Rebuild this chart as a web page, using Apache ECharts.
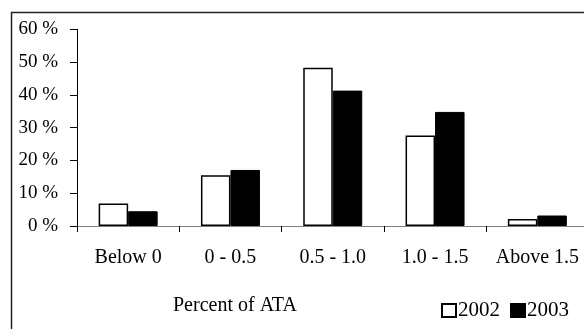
<!DOCTYPE html>
<html>
<head>
<meta charset="utf-8">
<script src="https://cdn.jsdelivr.net/npm/echarts@6/dist/echarts.min.js"></script>
<style>
  html, body { margin: 0; padding: 0; overflow: hidden; background: #fff; }
  #chart { width: 600px; height: 340px; }
</style>
</head>
<body>
<div id="chart"></div>
<script>
// Distribution of banks by ratio, share of each band per year
const categories = ['Below 0', '0 - 0.5', '0.5 - 1.0', '1.0 - 1.5', 'Above 1.5'];
const years = ['2002', '2003'];
const values2002 = [6.9, 15.5, 48.3, 27.6, 2.1];
const values2003 = [4.5, 17.1, 41.3, 34.8, 3.2];
const xTitle = 'Percent of ATA';

const serif = '"Liberation Serif", "Times New Roman", serif';

const chart = echarts.init(document.getElementById('chart'), null, { renderer: 'canvas' });

chart.setOption({
  animation: false,
  backgroundColor: '#fff',
  grid: { left: 77, top: 29.3, width: 511.5, height: 196.7 },
  xAxis: {
    type: 'category',
    data: categories,
    axisLine: { show: true, lineStyle: { color: '#808080', width: 1.2 } },
    axisTick: { show: true, length: 6, lineStyle: { color: '#000', width: 1 } },
    axisLabel: {
      interval: 0,
      hideOverlap: false,
      margin: 22,
      color: '#000',
      fontFamily: serif,
      fontSize: 20
    }
  },
  yAxis: {
    type: 'value',
    min: 0,
    max: 60,
    interval: 10,
    splitLine: { show: false },
    axisLine: { show: true, lineStyle: { color: '#000', width: 1 } },
    axisTick: { show: true, length: 7, lineStyle: { color: '#000', width: 1 } },
    axisLabel: {
      margin: 19,
      color: '#000',
      fontFamily: serif,
      fontSize: 19,
      formatter: '{value} %'
    }
  },
  legend: {
    data: years,
    left: 441,
    top: 300,
    icon: 'rect',
    itemWidth: 14,
    itemHeight: 13,
    itemGap: 10,
    padding: 0,
    textStyle: { color: '#000', fontFamily: serif, fontSize: 21, padding: [0, 0, 0, -3] }
  },
  graphic: [
    {
      type: 'rect',
      silent: true,
      shape: { x: 11.5, y: 12.5, width: 700, height: 400 },
      style: { fill: 'none', stroke: '#222', lineWidth: 1.5 }
    },
    {
      type: 'text',
      left: 173,
      top: 296,
      style: { text: xTitle, fill: '#000', font: '20px ' + serif }
    }
  ],
  series: [
    {
      name: years[0],
      type: 'bar',
      data: values2002,
      barWidth: 29.5,
      barGap: '0%',
      itemStyle: { color: '#fff', borderColor: '#000', borderWidth: 1.5 }
    },
    {
      name: years[1],
      type: 'bar',
      data: values2003,
      barWidth: 29.5,
      itemStyle: { color: '#000', borderColor: '#000', borderWidth: 1 }
    }
  ]
});
</script>
</body>
</html>
